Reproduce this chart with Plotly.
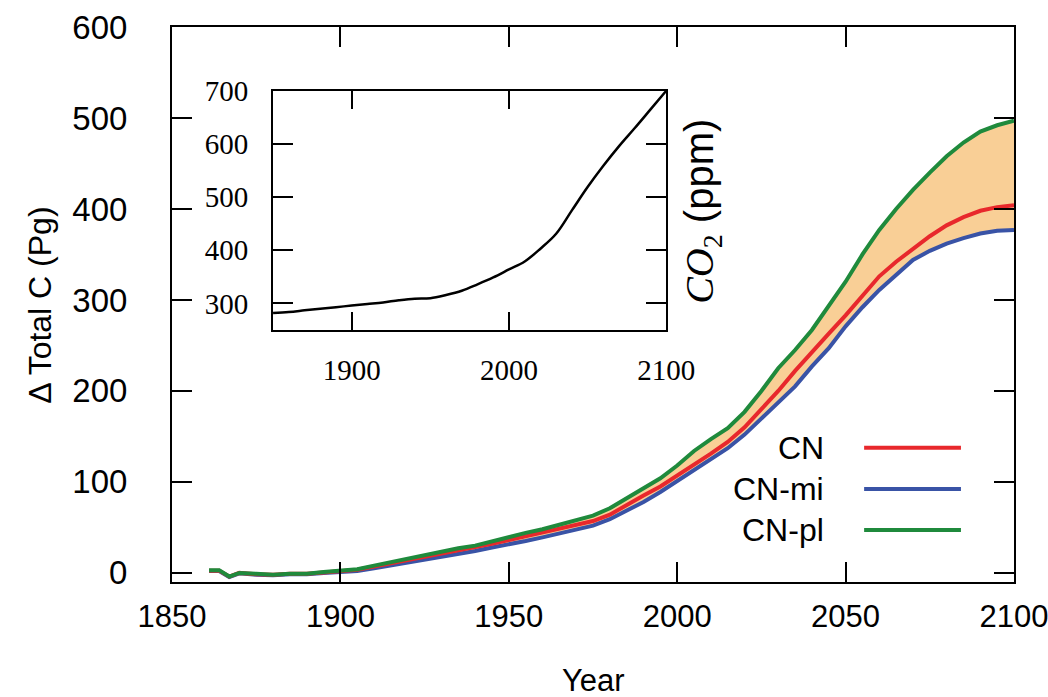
import plotly.graph_objects as go

# ---- main chart data (Pg C change) ----
years = [1861, 1864, 1867, 1870, 1875, 1880, 1885, 1890, 1895, 1900,
         1905, 1910, 1915, 1920, 1925, 1930, 1935, 1940, 1945, 1950,
         1955, 1960, 1965, 1970, 1975, 1980, 1985, 1990, 1995, 2000,
         2005, 2010, 2015, 2020, 2025, 2030, 2035, 2040, 2045, 2050,
         2055, 2060, 2065, 2070, 2075, 2080, 2085, 2090, 2095, 2100]

cn_pl = [3, 3, -4, 0, -1, -2, -1, -1, 1, 3,
         4, 8, 12, 16, 20, 23, 27, 30, 35, 40,
         44, 48, 53, 57, 63, 71, 82, 93, 104, 118,
         134, 147, 159, 177, 200, 225, 245, 267, 293, 320,
         350, 377, 400, 421, 440, 458, 473, 485, 492, 497]

cn = [2.5, 2.5, -4, 0, -1.5, -2, -1, -1, 0.5, 2,
      3.5, 7, 10.5, 14, 18, 21, 24, 28, 32, 36,
      40, 45, 49, 53, 57, 64, 75, 85, 95, 107,
      118, 131, 144, 160, 180, 200, 222, 243, 263, 283,
      305, 326, 342, 356, 370, 382, 391, 398, 402, 404]

cn_mi = [2, 2, -4.5, -0.5, -2, -2.5, -1.5, -1.5, 0, 1,
         2, 5, 8, 11, 15, 18, 21, 24, 28, 31,
         35, 39, 43, 47, 52, 59, 68, 78, 89, 101,
         112, 124, 137, 152, 170, 187, 205, 227, 247, 271,
         292, 311, 328, 344, 354, 362, 368, 373, 376, 377]

# ---- inset data (CO2 ppm) ----
co2_years = [1850, 1860, 1870, 1880, 1890, 1900, 1910, 1920, 1930, 1940,
             1950, 1960, 1970, 1980, 1990, 2000, 2010, 2020, 2030, 2040,
             2050, 2060, 2070, 2080, 2090, 2100]
co2_ppm = [282, 284, 287, 290, 293, 296, 299, 302, 306, 309,
           310, 316, 324, 336, 349, 364, 379, 403, 431, 475,
           519, 559, 596, 630, 665, 700]

main_ticks_y = [0, 100, 200, 300, 400, 500, 600]
main_ticks_x = [1850, 1900, 1950, 2000, 2050, 2100]

RED = "#e8282c"
BLUE = "#3953a6"
GREEN = "#1f8a3c"
FILL = "#f9cf96"

fig = go.Figure()

# band between CN-mi and CN-pl
fig.add_trace(go.Scatter(x=years, y=cn_mi, mode="lines",
                         line=dict(width=0, color=BLUE), showlegend=False,
                         hoverinfo="skip"))
fig.add_trace(go.Scatter(x=years, y=cn_pl, mode="lines", fill="tonexty",
                         fillcolor=FILL, line=dict(width=0, color=GREEN),
                         showlegend=False, hoverinfo="skip"))
fig.add_trace(go.Scatter(x=years, y=cn_mi, mode="lines", name="CN-mi",
                         line=dict(width=4, color=BLUE), showlegend=False))
fig.add_trace(go.Scatter(x=years, y=cn, mode="lines", name="CN",
                         line=dict(width=4, color=RED), showlegend=False))
fig.add_trace(go.Scatter(x=years, y=cn_pl, mode="lines", name="CN-pl",
                         line=dict(width=4, color=GREEN), showlegend=False))

# inset
fig.add_trace(go.Scatter(x=co2_years, y=co2_ppm, mode="lines",
                         line=dict(width=2.5, color="black", shape="spline"),
                         xaxis="x2", yaxis="y2", showlegend=False))

sans = "Liberation Sans, Arial, sans-serif"
serif = "Liberation Serif, Times New Roman, serif"

fig.update_layout(
    width=1048, height=697,
    margin=dict(l=172, r=34, t=27, b=115, autoexpand=False),
    paper_bgcolor="white", plot_bgcolor="white",
    font=dict(family=sans, size=32, color="black"),
    xaxis=dict(range=[1850, 2100], tickvals=main_ticks_x, automargin=False,
               ticks="inside", ticklen=20, tickwidth=2, tickcolor="black",
               showline=True, linewidth=2, linecolor="black", mirror="allticks",
               showgrid=False, zeroline=False, ticklabelstandoff=6,
               ticklabeloverflow="allow",
               tickfont=dict(family=sans, size=31)),
    yaxis=dict(range=[-10, 600], tickvals=main_ticks_y, automargin=False,
               ticks="inside", ticklen=20, tickwidth=2, tickcolor="black",
               showline=True, linewidth=2, linecolor="black", mirror="allticks",
               showgrid=False, zeroline=False, ticklabelstandoff=36,
               ticklabeloverflow="allow",
               tickfont=dict(family=sans, size=33)),
    xaxis2=dict(domain=[0.120, 0.587], anchor="y2", range=[1850, 2100],
                tickvals=[1900, 2000, 2100], automargin=False,
                ticks="inside", ticklen=18, tickwidth=2, tickcolor="black",
                showline=True, linewidth=2, linecolor="black", mirror="allticks",
                showgrid=False, zeroline=False, ticklabelstandoff=13,
                ticklabeloverflow="allow",
                tickfont=dict(family=serif, size=29)),
    yaxis2=dict(domain=[0.454, 0.885], anchor="x2", range=[250, 700],
                tickvals=[300, 400, 500, 600, 700], automargin=False,
                ticks="inside", ticklen=20, tickwidth=2, tickcolor="black",
                showline=True, linewidth=2, linecolor="black", mirror="allticks",
                showgrid=False, zeroline=False, ticklabelstandoff=17,
                ticklabeloverflow="allow",
                tickfont=dict(family=serif, size=29)),
)

annotations = [
    dict(text="Year", x=0.5, y=-0.177, xref="paper", yref="paper",
         showarrow=False, xanchor="center", yanchor="middle",
         font=dict(family=sans, size=31)),
    dict(text="\u0394 Total C (Pg)", x=-0.157, y=0.499, xref="paper", yref="paper",
         showarrow=False, textangle=-90, xanchor="center", yanchor="middle",
         font=dict(family=sans, size=32)),
    dict(text="<span style='font-family:Liberation Serif'><i>CO</i><sub>2</sub></span> (ppm)",
         x=0.6295, y=0.667, xref="paper", yref="paper",
         showarrow=False, textangle=-90, xanchor="center", yanchor="middle",
         font=dict(family=sans, size=40)),
]

legend_names = ["CN", "CN-mi", "CN-pl"]
legend_colors = [RED, BLUE, GREEN]
legend_y = [0.242, 0.1676, 0.0937]
shapes = []
for name, col, ly in zip(legend_names, legend_colors, legend_y):
    annotations.append(dict(text=name, x=0.777, y=ly, xref="paper", yref="paper",
                            showarrow=False, xanchor="right", yanchor="middle",
                            font=dict(family=sans, size=32)))
    shapes.append(dict(type="line", xref="paper", yref="paper",
                       x0=0.822, x1=0.937, y0=ly, y1=ly,
                       line=dict(color=col, width=4)))

fig.update_layout(annotations=annotations, shapes=shapes)

# remove the default 8px page margin so the 1048x697 figure fills the window
fig.write_html("out.html",
               config={"displayModeBar": False},
               post_script="document.body.style.margin='0';"
                           "document.body.style.overflow='hidden';")
